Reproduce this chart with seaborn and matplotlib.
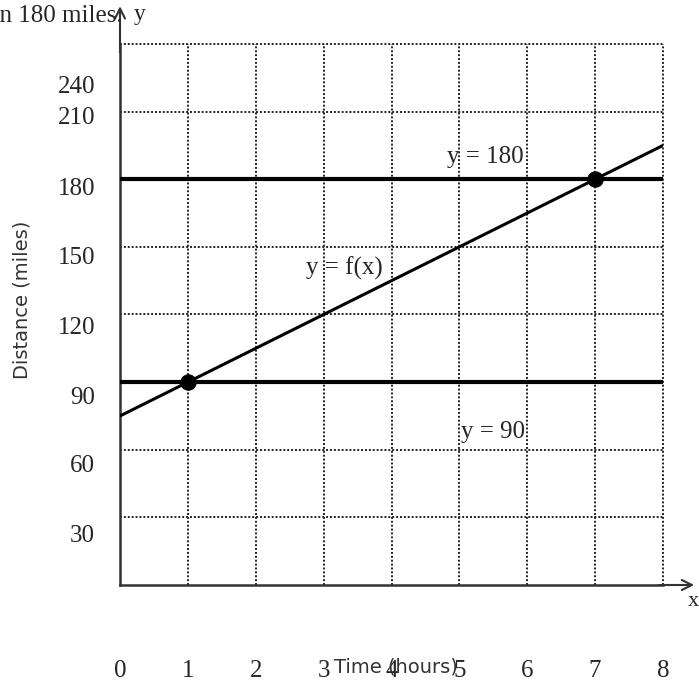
import matplotlib
matplotlib.use("Agg")
import matplotlib.pyplot as plt
import seaborn as sns
import pandas as pd

# values
hours = [0, 1, 2, 3, 4, 5, 6, 7, 8]
distance = [75, 90, 105, 120, 135, 150, 165, 180, 195]
levels = [90, 180]
hit_hours = [1, 7]
hit_distance = [90, 180]

xticks = [0, 1, 2, 3, 4, 5, 6, 7, 8]
yticks_labels = ["30", "60", "90", "120", "150", "180", "210", "240"]
# where the y labels actually sit in the picture (they drift below their gridlines)
ytick_pos = [23, 54, 84, 115, 146, 177, 208.5, 222]

line_df = pd.DataFrame({"hours": hours, "distance": distance})
hit_df = pd.DataFrame({"hours": hit_hours, "distance": hit_distance})

sns.set_theme(style="white")
plt.rcParams["font.family"] = ["Liberation Serif", "DejaVu Serif"]

fig = plt.figure(figsize=(6.99, 6.83), dpi=100)
ax = fig.add_axes([120 / 699, 98 / 683, 543 / 699, 541 / 683])

ax.set_xlim(0, 8)
ax.set_ylim(0, 240)

# dotted grid, including the top and right border
dot = (0, (1, 1))
for gx in range(1, 9):
    ax.axvline(gx, color="#222222", lw=1.4, ls=dot, zorder=1, clip_on=False)
for gy in range(30, 270, 30):
    ax.axhline(gy, color="#222222", lw=1.4, ls=dot, zorder=1, clip_on=False)

ax.spines["top"].set_visible(False)
ax.spines["right"].set_visible(False)
for side in ["left", "bottom"]:
    ax.spines[side].set_linewidth(1.8)
    ax.spines[side].set_color("#333333")

for lv in levels:
    ax.axhline(lv, color="black", lw=3, zorder=3)

sns.lineplot(data=line_df, x="hours", y="distance", color="black", lw=2.2, ax=ax, zorder=4)
sns.scatterplot(data=hit_df, x="hours", y="distance", color="black", s=120, ax=ax, zorder=5,
                edgecolor="black")

# axis arrows
ax.annotate("", xy=(8.5, 0), xytext=(7.9, 0), annotation_clip=False,
            arrowprops=dict(arrowstyle="->", color="#333333", lw=1.5, mutation_scale=18))
ax.annotate("", xy=(0, 258), xytext=(0, 235), annotation_clip=False,
            arrowprops=dict(arrowstyle="->", color="#333333", lw=1.5, mutation_scale=18))

ax.set_xticks(xticks)
ax.set_xticklabels([str(t) for t in xticks], fontsize=18)
ax.set_yticks(ytick_pos)
ax.set_yticklabels(yticks_labels, fontsize=18)
ax.tick_params(axis="both", length=0)
ax.tick_params(axis="x", pad=54)
ax.tick_params(axis="y", pad=18)

ax.set_xlabel("Time (hours)", fontsize=14, family=["DejaVu Sans"], color="#333333")
ax.xaxis.set_label_coords(0.508, -0.152)
ax.xaxis.label.set_va("center")
ax.set_ylabel("Distance (miles)", fontsize=14, family=["DejaVu Sans"], color="#333333")
ax.yaxis.set_label_coords(-0.18, 0.527)
ax.yaxis.label.set_va("center")

ax.text(5.38, 190, "y = 180", fontsize=18, ha="center", va="center", zorder=6)
ax.text(3.31, 140.5, "y = f(x)", fontsize=18, ha="center", va="center", zorder=6)
ax.text(5.49, 68, "y = 90", fontsize=18, ha="center", va="center", zorder=6)
ax.text(8.44, -7.5, "x", fontsize=16, ha="center", va="center", clip_on=False)
ax.text(0.29, 253, "y", fontsize=17, ha="center", va="center", clip_on=False)

fig.text(123 / 699, 1 - 16 / 683, "than 180 miles.", fontsize=18, ha="right", va="center")

fig.savefig("out.png", dpi=100)
